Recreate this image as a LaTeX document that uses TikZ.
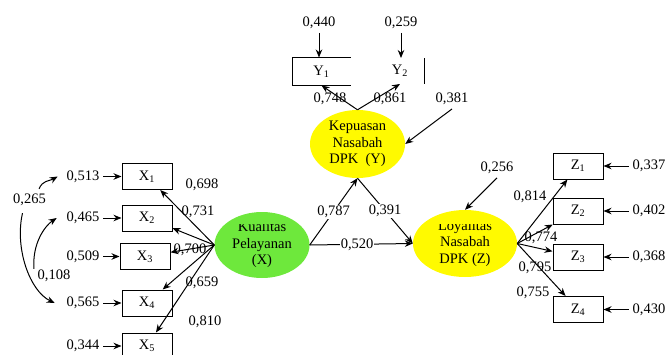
\documentclass[tikz,border=0pt]{standalone}
\usepackage{fontspec}
\setmainfont{Liberation Serif}
\usetikzlibrary{shapes.geometric,arrows.meta}
\definecolor{latgreen}{RGB}{110,232,60}
\definecolor{latyellow}{RGB}{255,250,0}
\begin{document}
\begin{tikzpicture}[x=1pt, y=-1pt, >={Stealth[length=8pt,width=6.5pt]},
    every node/.append style={font=\fontsize{14.5}{16.5}\selectfont},
    ind/.style={draw=black, line width=1pt, fill=white, minimum width=50pt, minimum height=26pt, inner sep=0pt},
    lat/.style={ellipse, inner sep=0pt},
    err/.style={inner sep=1pt, outer sep=3pt},
    lbl/.style={inner sep=1pt},
    flow/.style={->, line width=1pt}]

  \clip (0,0) rectangle (667,354);

  % ---------------- exogenous: Kualitas Pelayanan (X) ----------------
  \node[lat, fill=latgreen, minimum width=95pt, minimum height=66pt] (X) at (262,245) {};
  \begin{scope}
    \clip (215,224.5) rectangle (310,280);
    \node[align=center] (Xtxt) at (X) {Kualitas\\Pelayanan\\(X)};
  \end{scope}

  \foreach \i/\x/\y/\e in {1/147/176.5/{0,513}, 2/147/218/{0,465}, 3/145/256.5/{0,509}, 4/147/303/{0,565}, 5/147/346/{0,344}} {
    \node[ind] (x\i) at (\x,\y) {X\textsubscript{\i}};
    \node[err] (ex\i) at (83,\y) {\e};
    \draw[flow] (ex\i) -- (x\i);
  }
  \foreach \i/\x/\y/\l in {1/202/185/{0,698}, 2/198/212/{0,731}, 3/190/250/{0,700}, 4/202/283/{0,659}, 5/205/322/{0,810}} {
    \draw[flow] (X.west) -- (x\i);
    \node[lbl] (lx\i) at (\x,\y) {\l};
  }

  % error covariances
  \node[lbl] (r1) at (29.5,200) {0,265};
  \node[lbl] (r2) at (54,276) {0,108};
  \draw[flow] ([shift={(-8pt,4pt)}]r1.north east) .. controls +(4,-9) and +(-9,5) .. ([xshift=-5pt]ex1.west);
  \draw[flow] ([shift={(-7pt,-6pt)}]r1.south) .. controls +(-8,35) and +(-25,-12) .. ([xshift=-8pt]ex4.west);
  \draw[flow] ([xshift=-20pt]r2.north) .. controls +(-2,-25) and +(-12,8) .. ([xshift=-6pt]ex2.west);

  % ---------------- mediator: Kepuasan Nasabah DPK (Y) ----------------
  \node[lat, fill=latyellow, minimum width=95pt, minimum height=68pt, align=center] (Y) at (357.5,144) {Kepuasan\\Nasabah\\DPK~~(Y)};
  \node[ind, draw=none, fill=none, minimum width=57pt, minimum height=27pt] (y1) at (321.5,71.5) {Y\textsubscript{1}};
  \draw[line width=1pt] (y1.north east) -- (y1.north west) -- (y1.south west) -- (y1.south east);
  \node[ind, draw=none, fill=none, minimum width=48pt, minimum height=25pt] (y2) at (400,71) {Y\textsubscript{2}};
  \draw[line width=1pt] (y2.north east) -- (y2.south east);

  \node[err] (ey1) at (319,23) {0,440};
  \node[err] (ey2) at (401,23) {0,259};
  \draw[flow] (ey1.south) -- (ey1.south |- y1.north);
  \draw[flow] (ey2.south) -- (ey2.south |- y2.north);

  \draw[flow] (Y.north) -- (y1.south);
  \draw[flow] (Y.north) -- (y2.south);
  \node[lbl] (ly1) at (330,99) {0,748};
  \node[lbl] (ly2) at (390,99) {0,861};

  \node[err] (dy) at (452,99) {0,381};
  \draw[flow] (dy.south) -- (Y.east);

  % ---------------- endogenous: Loyalitas Nasabah DPK (Z) ----------------
  \node[lat, fill=latyellow, minimum width=104pt, minimum height=67pt] (Z) at (465,243.5) {};
  \begin{scope}
    \clip (413,224.5) rectangle (517,280);
    \node[align=center] (Ztxt) at (Z) {Loyalitas\\Nasabah\\DPK (Z)};
  \end{scope}

  \foreach \i/\y/\e/\l/\lx/\ly in {1/166/{0,337}/{0,814}/530/197, 2/211/{0,402}/{0,774}/541/238, 3/257/{0,368}/{0,795}/535/268, 4/309.5/{0,430}/{0,755}/533/293} {
    \node[ind] (z\i) at (578,\y) {Z\textsubscript{\i}};
    \node[err] (ez\i) at (649,\y) {\e};
    \draw[flow] (ez\i) -- (z\i);
    \draw[flow] (Z.east) -- (z\i);
    \node[lbl] (lz\i) at (\lx,\ly) {\l};
  }

  \node[err] (dz) at (497,168) {0,256};
  \draw[flow] (dz.south) -- (Z.north);

  % structural paths
  \draw[flow] (X.east) -- node[lbl, fill=white] (b1) {0,787} (Y.south);
  \draw[flow] (Y.south) -- node[lbl, fill=white] (b2) {0,391} (Z.west);
  \draw[flow] (X.east) -- node[lbl, fill=white, pos=0.46] (b3) {0,520} (Z.west);
\end{tikzpicture}
\end{document}
